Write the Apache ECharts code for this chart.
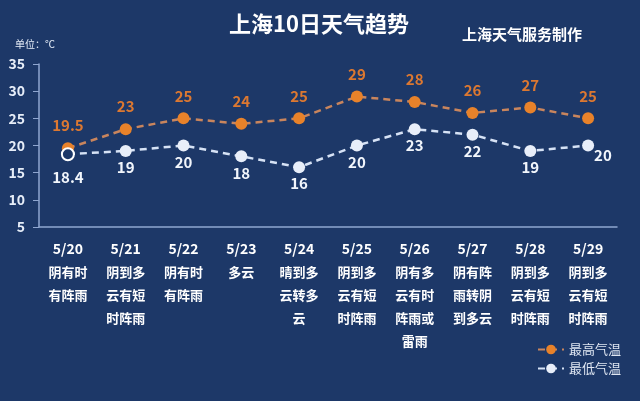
<!DOCTYPE html>
<html>
<head>
<meta charset="utf-8">
<script src="https://cdn.jsdelivr.net/npm/echarts@6/dist/echarts.min.js"></script>
<style>
html,body{margin:0;padding:0;background:#1d3868;}
#c{width:640px;height:401px;}
</style>
</head>
<body>
<div id="c"></div>
<script>
var dates = ['5/20','5/21','5/22','5/23','5/24','5/25','5/26','5/27','5/28','5/29'];
var weather = [
  ['阴有时','有阵雨'],
  ['阴到多','云有短','时阵雨'],
  ['阴有时','有阵雨'],
  ['多云'],
  ['晴到多','云转多','云'],
  ['阴到多','云有短','时阵雨'],
  ['阴有多','云有时','阵雨或','雷雨'],
  ['阴有阵','雨转阴','到多云'],
  ['阴到多','云有短','时阵雨'],
  ['阴到多','云有短','时阵雨']
];
var highTemp = [19.5, 23, 25, 24, 25, 29, 28, 26, 27, 25];
var lowTemp = [18.4, 19, 20, 18, 16, 20, 23, 22, 19, 20];
var yTicks = {min: 5, max: 35, interval: 5};

var font = '"Noto Sans CJK SC", "Noto Sans", sans-serif';
var orange = '#e8822a';

var lowData = lowTemp.map(function (v, i) {
  var d = {value: v};
  if (i === 0) {
    d.itemStyle = {color: '#1d3868', borderColor: '#ffffff', borderWidth: 2};
    d.label = {distance: 9};
  }
  if (i === lowTemp.length - 1) {
    d.label = {position: 'right', offset: [-4, 10], distance: 4};
  }
  return d;
});

var chart = echarts.init(document.getElementById('c'));
chart.setOption({
  backgroundColor: '#1d3868',
  animation: false,
  textStyle: {fontFamily: font},
  title: [
    {text: '上海10日天气趋势', left: 314, top: 8, textAlign: 'center',
     textStyle: {color: '#ffffff', fontSize: 22, fontWeight: 'bold', fontFamily: font}},
    {text: '上海天气服务制作', left: 457, top: 22,
     textStyle: {color: '#ffffff', fontSize: 15, fontWeight: 'bold', fontFamily: font}},
    {text: '单位：℃', left: 10, top: 34,
     textStyle: {color: '#e6edf8', fontSize: 10, fontWeight: 'normal', fontFamily: font}}
  ],
  legend: {
    orient: 'vertical',
    right: 14,
    top: 338,
    itemGap: 6,
    itemWidth: 26,
    itemHeight: 12,
    textStyle: {color: '#dfe6f2', fontSize: 13, fontFamily: font},
    data: ['最高气温', '最低气温']
  },
  grid: {left: 39, right: 23, top: 64, bottom: 174},
  xAxis: {
    type: 'category',
    data: dates,
    boundaryGap: true,
    axisLine: {lineStyle: {color: '#8fa6d0', width: 1.5}},
    axisTick: {show: false},
    axisLabel: {
      interval: 0,
      margin: 10,
      formatter: function (val, idx) {
        var s = '{d|' + val + '}';
        weather[idx].forEach(function (l) { s += '\n{t|' + l + '}'; });
        return s;
      },
      rich: {
        d: {color: '#ffffff', fontSize: 14, fontWeight: 'bold', lineHeight: 24, fontFamily: font},
        t: {color: '#ffffff', fontSize: 13, fontWeight: 'bold', lineHeight: 23, fontFamily: font}
      }
    }
  },
  yAxis: {
    type: 'value',
    min: yTicks.min,
    max: yTicks.max,
    interval: yTicks.interval,
    axisLine: {show: true, lineStyle: {color: '#8fa6d0', width: 1.5}},
    axisTick: {show: true, length: 6, lineStyle: {color: '#8fa6d0'}},
    splitLine: {show: false},
    axisLabel: {color: '#e6edf8', fontSize: 14, fontWeight: 'bold', margin: 14, fontFamily: font}
  },
  series: [
    {
      name: '最高气温',
      type: 'line',
      data: highTemp,
      symbol: 'circle',
      symbolSize: 12,
      itemStyle: {color: orange},
      lineStyle: {color: '#c9855d', width: 2.5, type: [7, 5]},
      label: {show: true, position: 'top', distance: 9, color: '#dc7831', fontSize: 15, fontWeight: 'bold', fontFamily: font},
      z: 2
    },
    {
      name: '最低气温',
      type: 'line',
      data: lowData,
      symbol: 'circle',
      symbolSize: 12,
      itemStyle: {color: '#e8eef9'},
      lineStyle: {color: '#d6e2f5', width: 2.5, type: [7, 5]},
      label: {show: true, position: 'bottom', distance: 3, color: '#f2f6fc', fontSize: 15, fontWeight: 'bold', fontFamily: font},
      z: 3
    }
  ]
});
</script>
</body>
</html>
